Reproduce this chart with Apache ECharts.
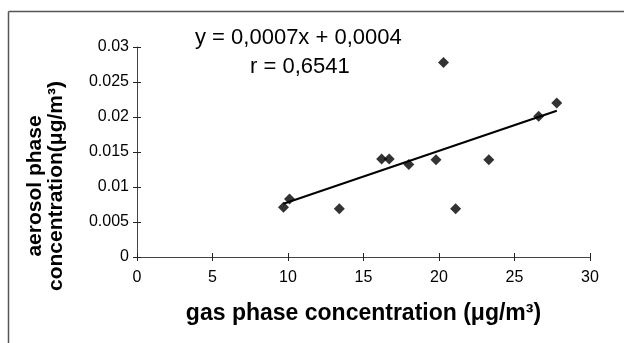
<!DOCTYPE html>
<html>
<head>
<meta charset="utf-8">
<script src="https://cdn.jsdelivr.net/npm/echarts@6/dist/echarts.min.js"></script>
<style>
  html, body { margin: 0; padding: 0; background: #fff; }
  #chart { width: 624px; height: 343px; }
</style>
</head>
<body>
<div id="chart"></div>
<script>
// measured points (gas phase, aerosol phase)
const gasPhase = [9.7, 10.1, 13.4, 16.2, 16.7, 18.0, 19.8, 20.3, 21.1, 23.3, 26.6, 27.8];
const aerosolPhase = [0.0071, 0.0083, 0.0069, 0.0140, 0.0140, 0.0132, 0.0139, 0.0278, 0.0069, 0.0139, 0.0201, 0.0220];
// fitted line end points
const trendX = [9.7, 27.8];
const trendY = [0.0076, 0.0209];
const xTicks = [0, 5, 10, 15, 20, 25, 30];
const yTicks = [0, 0.005, 0.01, 0.015, 0.02, 0.025, 0.03];

const font = '"Liberation Sans", Arial, sans-serif';
const points = gasPhase.map((x, i) => [x, aerosolPhase[i]]);
const trend = trendX.map((x, i) => [x, trendY[i]]);

const chart = echarts.init(document.getElementById('chart'), null, { renderer: 'canvas' });

const xBase = {
  type: 'value',
  min: xTicks[0],
  max: xTicks[xTicks.length - 1],
  interval: 5,
  splitLine: { show: false },
};
const yBase = {
  type: 'value',
  min: yTicks[0],
  max: yTicks[yTicks.length - 1],
  interval: 0.005,
  splitLine: { show: false },
};

const tickLabel = {
  color: '#000',
  fontSize: 16,
  fontFamily: font,
};

chart.setOption({
  animation: false,
  backgroundColor: '#fff',
  grid: { left: 137, right: 34, top: 47, bottom: 86, containLabel: false },
  xAxis: [
    Object.assign({}, xBase, {
      axisLine: { onZero: false, lineStyle: { color: '#444', width: 1 } },
      axisTick: { length: 4, lineStyle: { color: '#222' } },
      axisLabel: Object.assign({ margin: 13 }, tickLabel),
      name: 'gas phase concentration (μg/m³)',
      nameLocation: 'middle',
      nameGap: 45,
      nameTextStyle: { color: '#000', fontSize: 23, fontWeight: 'bold', fontFamily: font },
    }),
    Object.assign({}, xBase, {
      position: 'bottom',
      axisLine: { show: false },
      axisTick: { inside: true, length: 4, lineStyle: { color: '#222' } },
      axisLabel: { show: false },
    }),
  ],
  yAxis: [
    Object.assign({}, yBase, {
      axisLine: { onZero: false, lineStyle: { color: '#444', width: 1 } },
      axisTick: { length: 4, lineStyle: { color: '#222' } },
      axisLabel: Object.assign({
        margin: 8,
        formatter: v => String(+v.toFixed(3)),
      }, tickLabel),
      name: 'aerosol phase\nconcentration(μg/m³)',
      nameLocation: 'middle',
      nameRotate: 90,
      nameGap: 70,
      nameTextStyle: {
        color: '#000', fontSize: 21, fontWeight: 'bold', fontFamily: font,
        lineHeight: 21, padding: [0, 68, 0, 0],
      },
    }),
    Object.assign({}, yBase, {
      position: 'left',
      axisLine: { show: false },
      axisTick: { inside: true, length: 4, lineStyle: { color: '#222' } },
      axisLabel: { show: false },
    }),
  ],
  graphic: [
    { type: 'line', shape: { x1: 8.5, y1: 11.5, x2: 8.5, y2: 343 }, style: { stroke: '#555', lineWidth: 1.5 }, silent: true },
    { type: 'line', shape: { x1: 8.5, y1: 11.5, x2: 624, y2: 11.5 }, style: { stroke: '#555', lineWidth: 1.5 }, silent: true },
    {
      type: 'text', left: 195, top: 27,
      style: { text: 'y = 0,0007x + 0,0004', fill: '#000', font: '22px ' + font },
    },
    {
      type: 'text', left: 250, top: 56,
      style: { text: 'r = 0,6541', fill: '#000', font: '22px ' + font },
    },
  ],
  series: [
    {
      type: 'line',
      data: trend,
      symbol: 'none',
      lineStyle: { color: '#000', width: 2 },
      z: 2,
    },
    {
      type: 'scatter',
      data: points,
      symbol: 'diamond',
      symbolSize: 11,
      itemStyle: { color: '#000' },
      z: 3,
    },
  ],
});
</script>
</body>
</html>
